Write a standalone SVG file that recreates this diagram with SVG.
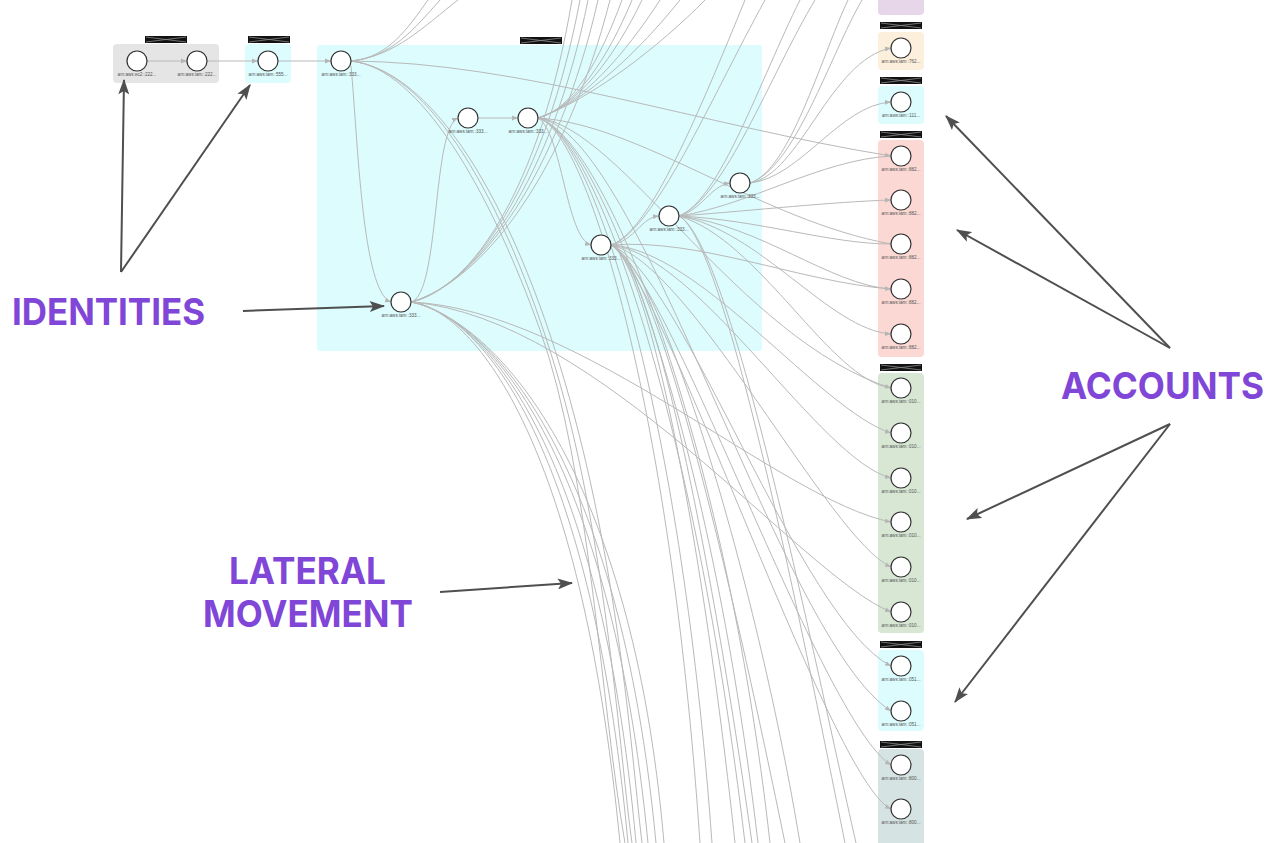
<svg xmlns="http://www.w3.org/2000/svg" width="1272" height="843" viewBox="0 0 1272 843">
<style>
.e{fill:none;stroke:#b9b9b9;stroke-width:1}
.ea{fill:none;stroke:#b9b9b9;stroke-width:1;marker-end:url(#ah)}
.n{fill:#fff;stroke:#333;stroke-width:1.2}
.lb{font-family:"Liberation Sans",Arial,sans-serif;font-size:4.6px;fill:#555;text-anchor:middle}
.hd{fill:#111}
.hx{stroke:#8a8a8a;stroke-width:0.8}
.ann{font-family:Inter,"Open Sans","Liberation Sans",sans-serif;font-weight:700;font-size:37px;fill:#7f46d7}
.ar{fill:none;stroke:#4f4f4f;stroke-width:2;marker-end:url(#big)}
</style>
<defs>
<marker id="ah" viewBox="0 0 10 10" refX="10" refY="5" markerWidth="6" markerHeight="6" markerUnits="userSpaceOnUse" orient="auto"><path d="M0,1 L10,5 L0,9z" fill="#b5b5b5"/></marker>
<marker id="big" viewBox="0 0 14 10" refX="13" refY="5" markerWidth="16" markerHeight="11" markerUnits="userSpaceOnUse" orient="auto"><path d="M0,0 L14,5 L0,10 L3,5z" fill="#4f4f4f"/></marker>
<g id="hdr"><rect class="hd" x="0" y="0" width="42" height="7"/><line class="hx" x1="1" y1="1" x2="41" y2="6"/><line class="hx" x1="1" y1="6" x2="41" y2="1"/></g>
</defs>

<g id="groups">
<rect x="113" y="44" width="106" height="39" rx="4" fill="#e5e5e5"/>
<use href="#hdr" x="145" y="36"/>
<rect x="245" y="44" width="46" height="39" rx="4" fill="#dcfcfe"/>
<use href="#hdr" x="248" y="36"/>
<rect x="317" y="45" width="445" height="306" rx="3" fill="#dcfcfe"/>
<use href="#hdr" x="520" y="37"/>
<rect x="878" y="-6" width="46" height="21" rx="4" fill="#e7d6ea"/>
<use href="#hdr" x="880" y="22"/>
<rect x="878" y="32" width="46" height="38" rx="4" fill="#fcefdc"/>
<use href="#hdr" x="880" y="77"/>
<rect x="878" y="86" width="46" height="38" rx="4" fill="#dcfcfe"/>
<use href="#hdr" x="880" y="131"/>
<rect x="878" y="140" width="46" height="217" rx="4" fill="#fbd8d4"/>
<use href="#hdr" x="880" y="364"/>
<rect x="878" y="373" width="46" height="260" rx="4" fill="#d7e7d4"/>
<use href="#hdr" x="880" y="641"/>
<rect x="878" y="650" width="46" height="81" rx="4" fill="#dcfcfe"/>
<use href="#hdr" x="880" y="741"/>
<rect x="878" y="749" width="46" height="100" rx="4" fill="#d6e3e3"/>
</g>

<g id="connectors">
<path class="ea" d="M147,61 L187,61"/>
<path class="ea" d="M207,61 L258,61"/>
<path class="ea" d="M278,61 L331,61"/>
<path class="e" d="M351,61 C388,58 408,28 428,0"/>
<path class="e" d="M351,61 C392,57 415,28 440,0"/>
<path class="e" d="M351,61 C396,56 424,26 458,0"/>
<path class="ea" d="M351,61 C520,62 700,125 891,156"/>
<path class="ea" d="M351,66 C358,140 362,292 391,302"/>
<path class="e" d="M351,61 C420,68 490,190 540,330 S600,700 625,843"/>
<path class="e" d="M351,61 C430,70 505,200 556,370 S620,760 632,843"/>
<path class="e" d="M351,61 C440,72 520,220 570,400 S632,760 642,843"/>
<path class="ea" d="M411,302 C440,295 432,128 458,118"/>
<path class="e" d="M411,302 C470,290 540,190 572,0"/>
<path class="e" d="M411,302 C472,288 545,185 580,0"/>
<path class="e" d="M411,302 C475,286 552,180 588,0"/>
<path class="e" d="M411,302 C478,284 558,176 598,0"/>
<path class="e" d="M411,302 C482,282 566,172 610,0"/>
<path class="e" d="M411,302 C470,310 580,430 620,843"/>
<path class="e" d="M411,302 C475,312 590,430 628,843"/>
<path class="e" d="M411,302 C480,314 600,440 636,843"/>
<path class="e" d="M411,302 C485,316 610,450 648,843"/>
<path class="e" d="M411,302 C490,318 620,460 656,843"/>
<path class="e" d="M411,302 C495,320 632,470 664,843"/>
<path class="ea" d="M411,302 C600,318 800,575 891,612"/>
<path class="ea" d="M411,302 C580,310 780,500 891,522"/>
<path class="ea" d="M478,118 L518,118"/>
<path class="e" d="M538,118 C572,110 600,60 622,0"/>
<path class="e" d="M538,118 C575,108 608,58 632,0"/>
<path class="e" d="M538,118 C578,106 615,56 642,0"/>
<path class="e" d="M538,118 C582,104 625,54 660,0"/>
<path class="e" d="M538,118 C586,102 640,50 680,0"/>
<path class="e" d="M538,118 C590,100 660,46 705,0"/>
<path class="ea" d="M538,118 C562,132 566,238 591,245"/>
<path class="e" d="M538,118 C585,128 670,400 700,843"/>
<path class="e" d="M538,118 C590,130 680,400 712,843"/>
<path class="e" d="M538,118 C595,132 695,420 745,843"/>
<path class="e" d="M538,118 C600,134 710,430 758,843"/>
<path class="e" d="M538,118 C605,136 725,440 770,843"/>
<path class="e" d="M538,118 C640,124 760,220 891,244"/>
<path class="ea" d="M538,118 C620,126 740,340 891,388"/>
<path class="ea" d="M538,118 C640,130 780,640 891,711"/>
<path class="ea" d="M611,245 C636,240 640,218 659,216"/>
<path class="e" d="M611,245 C650,232 700,110 745,0"/>
<path class="e" d="M611,245 C655,230 710,100 765,0"/>
<path class="ea" d="M611,245 C700,238 800,282 891,289"/>
<path class="ea" d="M611,245 C700,250 820,410 891,433"/>
<path class="ea" d="M611,245 C700,255 820,460 891,478"/>
<path class="ea" d="M611,245 C690,262 830,540 891,567"/>
<path class="ea" d="M611,245 C680,270 800,620 891,666"/>
<path class="ea" d="M611,245 C670,275 820,720 891,765"/>
<path class="ea" d="M611,245 C665,280 830,780 891,809"/>
<path class="e" d="M611,245 C650,262 705,560 735,843"/>
<path class="e" d="M611,245 C655,264 715,580 752,843"/>
<path class="e" d="M611,245 C660,266 735,600 785,843"/>
<path class="e" d="M611,245 C665,268 760,600 800,843"/>
<path class="ea" d="M679,216 C702,210 710,186 730,183"/>
<path class="e" d="M679,216 C750,205 820,160 891,156"/>
<path class="ea" d="M679,216 C760,210 830,202 891,200"/>
<path class="e" d="M679,216 C760,220 830,244 891,244"/>
<path class="e" d="M679,216 C760,225 830,285 891,289"/>
<path class="ea" d="M679,216 C760,230 830,330 891,334"/>
<path class="e" d="M679,216 C760,240 830,380 891,388"/>
<path class="e" d="M679,216 C720,200 760,80 800,0"/>
<path class="e" d="M679,216 C725,198 770,75 815,0"/>
<path class="e" d="M679,216 C725,240 800,620 845,843"/>
<path class="e" d="M679,216 C730,242 810,640 856,843"/>
<path class="ea" d="M750,183 C800,175 830,60 891,48"/>
<path class="ea" d="M750,183 C800,178 840,105 891,102"/>
<path class="e" d="M750,183 C790,170 820,60 848,0"/>
<path class="e" d="M750,183 C795,168 830,55 862,0"/>
</g>

<g id="n-ec2"><circle class="n" cx="137" cy="61" r="10"/><text class="lb" x="137" y="76">arn:aws:ec2::222...</text></g>
<g id="n-222"><circle class="n" cx="197" cy="61" r="10"/><text class="lb" x="197" y="76">arn:aws:iam::222...</text></g>
<g id="n-555"><circle class="n" cx="268" cy="61" r="10"/><text class="lb" x="268" y="76">arn:aws:iam::555...</text></g>
<g id="n-333a"><circle class="n" cx="341" cy="61" r="10"/><text class="lb" x="341" y="76">arn:aws:iam::333...</text></g>
<g id="n-333b"><circle class="n" cx="468" cy="118" r="10"/><text class="lb" x="468" y="133">arn:aws:iam::333...</text></g>
<g id="n-333c"><circle class="n" cx="528" cy="118" r="10"/><text class="lb" x="528" y="133">arn:aws:iam::333...</text></g>
<g id="n-333d"><circle class="n" cx="601" cy="245" r="10"/><text class="lb" x="601" y="260">arn:aws:iam::333...</text></g>
<g id="n-333e"><circle class="n" cx="669" cy="216" r="10"/><text class="lb" x="669" y="231">arn:aws:iam::333...</text></g>
<g id="n-333f"><circle class="n" cx="740" cy="183" r="10"/><text class="lb" x="740" y="198">arn:aws:iam::333...</text></g>
<g id="n-333g"><circle class="n" cx="401" cy="302" r="10"/><text class="lb" x="401" y="317">arn:aws:iam::333...</text></g>
<g id="n-762"><circle class="n" cx="901" cy="48" r="10"/><text class="lb" x="901" y="63">arn:aws:iam::762...</text></g>
<g id="n-111"><circle class="n" cx="901" cy="102" r="10"/><text class="lb" x="901" y="117">arn:aws:iam::111...</text></g>
<g id="n-882a"><circle class="n" cx="901" cy="156" r="10"/><text class="lb" x="901" y="171">arn:aws:iam::882...</text></g>
<g id="n-882b"><circle class="n" cx="901" cy="200" r="10"/><text class="lb" x="901" y="215">arn:aws:iam::882...</text></g>
<g id="n-882c"><circle class="n" cx="901" cy="244" r="10"/><text class="lb" x="901" y="259">arn:aws:iam::882...</text></g>
<g id="n-882d"><circle class="n" cx="901" cy="289" r="10"/><text class="lb" x="901" y="304">arn:aws:iam::882...</text></g>
<g id="n-882e"><circle class="n" cx="901" cy="334" r="10"/><text class="lb" x="901" y="349">arn:aws:iam::882...</text></g>
<g id="n-010a"><circle class="n" cx="901" cy="388" r="10"/><text class="lb" x="901" y="403">arn:aws:iam::010...</text></g>
<g id="n-010b"><circle class="n" cx="901" cy="433" r="10"/><text class="lb" x="901" y="448">arn:aws:iam::010...</text></g>
<g id="n-010c"><circle class="n" cx="901" cy="478" r="10"/><text class="lb" x="901" y="493">arn:aws:iam::010...</text></g>
<g id="n-010d"><circle class="n" cx="901" cy="522" r="10"/><text class="lb" x="901" y="537">arn:aws:iam::010...</text></g>
<g id="n-010e"><circle class="n" cx="901" cy="567" r="10"/><text class="lb" x="901" y="582">arn:aws:iam::010...</text></g>
<g id="n-010f"><circle class="n" cx="901" cy="612" r="10"/><text class="lb" x="901" y="627">arn:aws:iam::010...</text></g>
<g id="n-051a"><circle class="n" cx="901" cy="666" r="10"/><text class="lb" x="901" y="681">arn:aws:iam::051...</text></g>
<g id="n-051b"><circle class="n" cx="901" cy="711" r="10"/><text class="lb" x="901" y="726">arn:aws:iam::051...</text></g>
<g id="n-800a"><circle class="n" cx="901" cy="765" r="10"/><text class="lb" x="901" y="780">arn:aws:iam::800...</text></g>
<g id="n-800b"><circle class="n" cx="901" cy="809" r="10"/><text class="lb" x="901" y="824">arn:aws:iam::800...</text></g>

<g id="annotations">
<text class="ann" x="12" y="325" textLength="193" lengthAdjust="spacingAndGlyphs">IDENTITIES</text>
<text class="ann" x="1061" y="399" textLength="203" lengthAdjust="spacingAndGlyphs">ACCOUNTS</text>
<text class="ann" x="229" y="584" textLength="157" lengthAdjust="spacingAndGlyphs">LATERAL</text>
<text class="ann" x="203" y="627" textLength="210" lengthAdjust="spacingAndGlyphs">MOVEMENT</text>
<path class="ar" d="M121,272 L124,80"/>
<path class="ar" d="M121,272 L250,85"/>
<path class="ar" d="M243,311 L384,306"/>
<path class="ar" d="M440,592 L572,583"/>
<path class="ar" d="M1170,348 L946,116"/>
<path class="ar" d="M1170,348 L957,230"/>
<path class="ar" d="M1170,424 L967,519"/>
<path class="ar" d="M1170,424 L955,702"/>
</g>
</svg>
